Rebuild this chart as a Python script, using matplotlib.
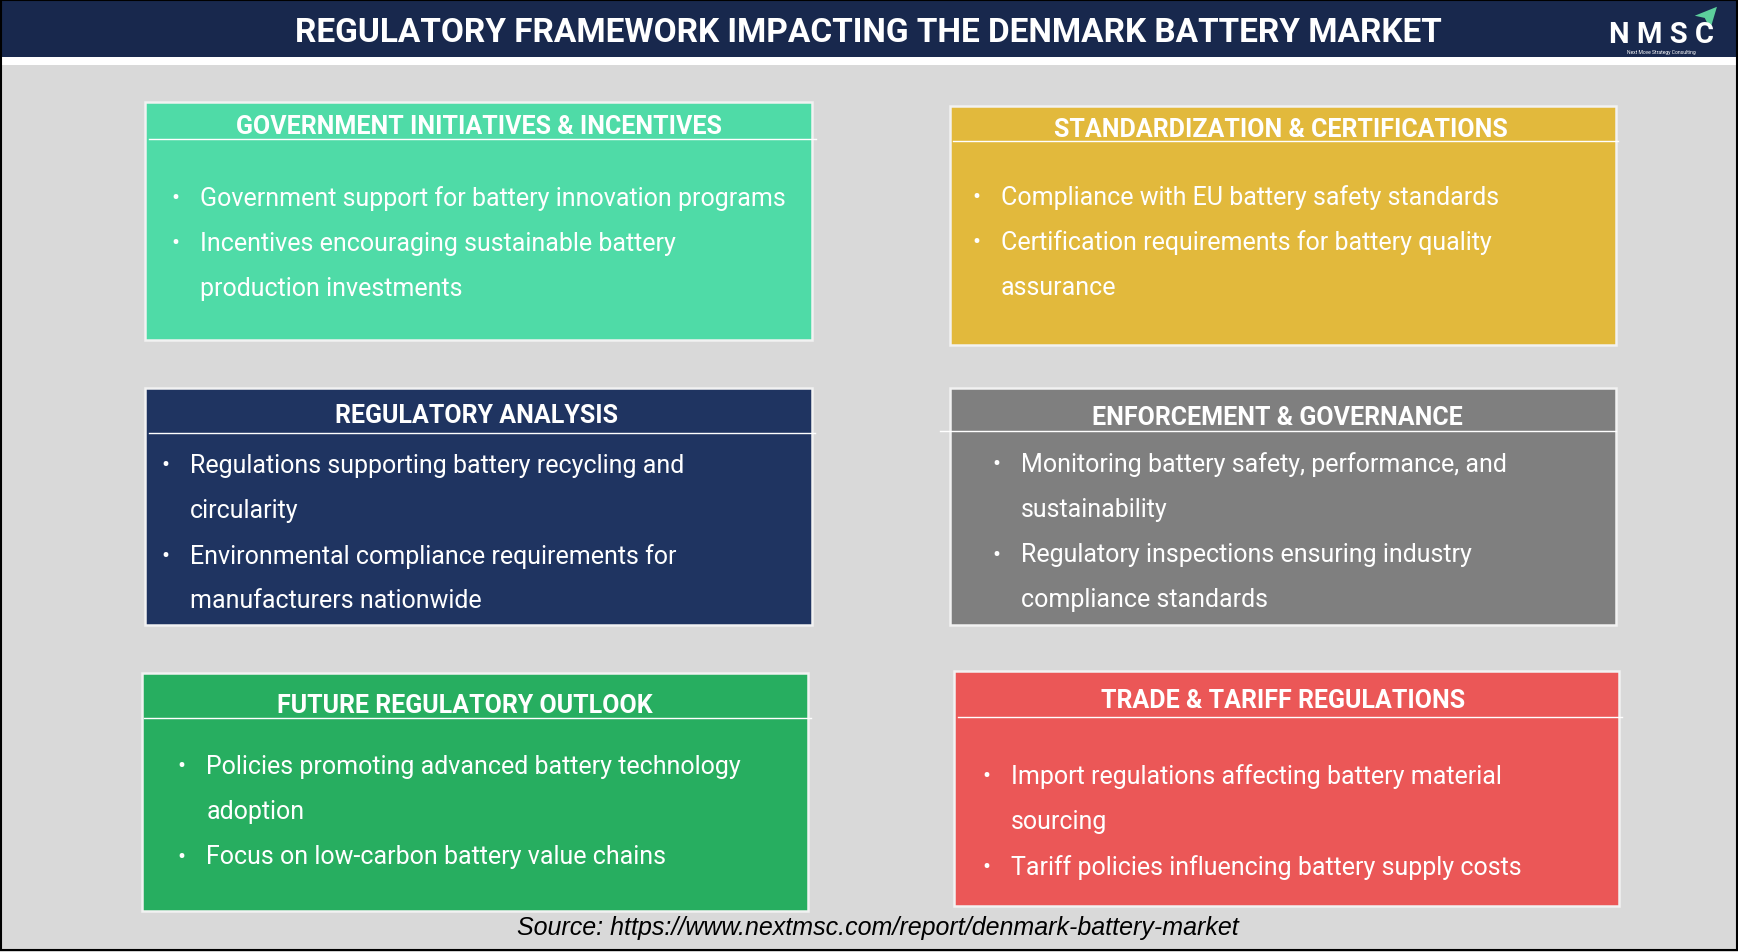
import matplotlib
matplotlib.use("Agg")
import matplotlib.pyplot as plt
from matplotlib.patches import Rectangle, Polygon

# drawing grid of the reference (scaled to 1738x953 on save)
W, H = 1568, 855

title = "REGULATORY FRAMEWORK IMPACTING THE DENMARK BATTERY MARKET"
source = "Source: https://www.nextmsc.com/report/denmark-battery-market"

box_titles = [
    "GOVERNMENT INITIATIVES & INCENTIVES",
    "STANDARDIZATION & CERTIFICATIONS",
    "REGULATORY ANALYSIS",
    "ENFORCEMENT & GOVERNANCE",
    "FUTURE REGULATORY OUTLOOK",
    "TRADE & TARIFF REGULATIONS",
]

# each bullet is given as its wrapped lines
box_bullets = [
    [["Government support for battery innovation programs"],
     ["Incentives encouraging sustainable battery", "production investments"]],
    [["Compliance with EU battery safety standards"],
     ["Certification requirements for battery quality", "assurance"]],
    [["Regulations supporting battery recycling and", "circularity"],
     ["Environmental compliance requirements for", "manufacturers nationwide"]],
    [["Monitoring battery safety, performance, and", "sustainability"],
     ["Regulatory inspections ensuring industry", "compliance standards"]],
    [["Policies promoting advanced battery technology", "adoption"],
     ["Focus on low-carbon battery value chains"]],
    [["Import regulations affecting battery material", "sourcing"],
     ["Tariff policies influencing battery supply costs"]],
]

box_colors = ["#4fdba7", "#e2b93c", "#1f3461", "#7f7f7f", "#27ae60", "#eb5757"]

# x0, y0, x1, y1, line_y, line_x0, line_x1, title_x, title_y, bullet_x, first_line_y
box_layout = [
    (131, 92, 733, 306, 126, 134, 736, 432, 114, 158, 178),
    (857, 96, 1458, 310, 127, 860, 1460, 1156, 117, 881, 177),
    (131, 349, 733, 562, 389, 134, 735, 430, 373, 149, 418),
    (857, 349, 1458, 562, 388, 848, 1458, 1152, 375, 899, 417),
    (128, 605, 729, 818, 645, 130, 732, 419, 633, 164, 688),
    (861, 603, 1461, 814, 644, 864, 1463, 1158, 629, 890, 697),
]
line_step = 40.5

FONT = ["Roboto", "DejaVu Sans"]

fig = plt.figure(figsize=(17.38, 9.53), dpi=100)
ax = fig.add_axes([0, 0, 1, 1])
ax.set_xlim(0, W)
ax.set_ylim(H, 0)
ax.axis("off")

# background and header band
ax.add_patch(Rectangle((0, 0), W, H, facecolor="#d9d9d9", edgecolor="none"))
ax.add_patch(Rectangle((0, 52), W, 7, facecolor="white", edgecolor="none"))
ax.add_patch(Rectangle((0, 0), W, 52, facecolor="#18284d", edgecolor="none"))
ax.add_patch(Rectangle((1, 1), W - 2, H - 3, facecolor="none", edgecolor="black", lw=1.5))

ax.text(783, 30, title, color="white", fontsize=24, fontweight="bold",
        family=FONT, ha="center", va="center")

# NMSC logo
ax.text(1499, 31, "N M S C", color="white", fontsize=21, fontweight="bold",
        family=FONT, ha="center", va="center")
ax.text(1499, 47.5, "Next Move Strategy Consulting", color="white", fontsize=3.6,
        family=FONT, ha="center", va="center")
ax.add_patch(Polygon([(1529, 15), (1549, 7), (1543, 27), (1538, 17)],
                     closed=True, facecolor="#5ccf9c", edgecolor="none"))

for k in range(len(box_titles)):
    x0, y0, x1, y1, ly, lx0, lx1, tx, ty, bx, fy = box_layout[k]
    ax.add_patch(Rectangle((x0, y0), x1 - x0, y1 - y0, facecolor=box_colors[k],
                           edgecolor="#f2f2f2", lw=1.8))
    ax.plot([lx0, lx1], [ly, ly], color="white", lw=1.0)
    ax.text(tx, ty, box_titles[k], color="white", fontsize=18, fontweight="bold",
            family=FONT, ha="center", va="center")
    y = fy
    for bullet in box_bullets[k]:
        ax.text(bx, y, "\u2022", color="white", fontsize=17, family=FONT,
                ha="center", va="center")
        for line in bullet:
            ax.text(bx + 22, y, line, color="white", fontsize=18, family=FONT,
                    ha="left", va="center")
            y += line_step

ax.text(792, 833, source, color="black", fontsize=18, style="italic",
        family=["Liberation Sans", "DejaVu Sans"], ha="center", va="center")

fig.savefig("out.png", dpi=100)
